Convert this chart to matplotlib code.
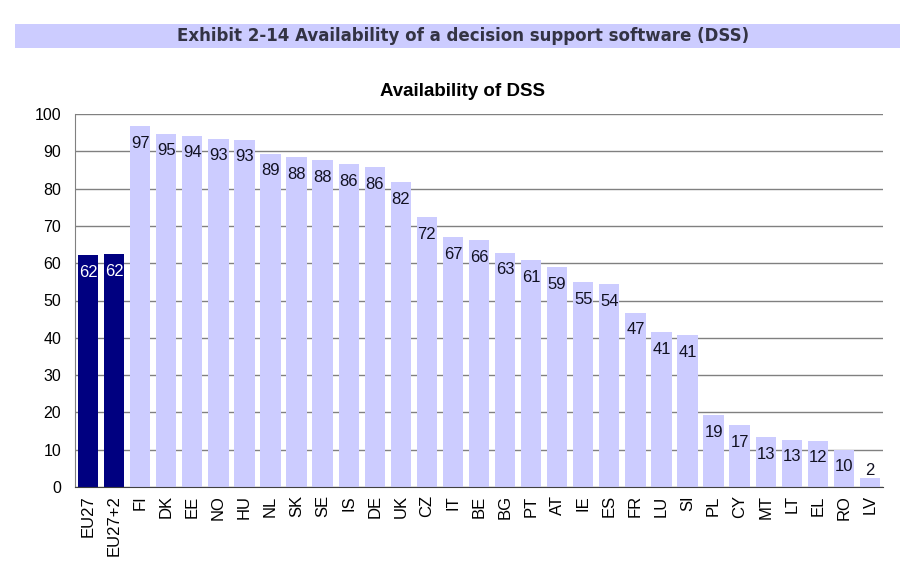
import matplotlib
matplotlib.use("Agg")
import matplotlib.pyplot as plt
from matplotlib.patches import Rectangle

categories = ["EU27", "EU27+2", "FI", "DK", "EE", "NO", "HU", "NL", "SK", "SE", "IS", "DE",
              "UK", "CZ", "IT", "BE", "BG", "PT", "AT", "IE", "ES", "FR", "LU", "SI",
              "PL", "CY", "MT", "LT", "EL", "RO", "LV"]
values = [62.2, 62.4, 96.8, 94.7, 94.2, 93.4, 93.1, 89.4, 88.4, 87.7, 86.5, 85.8,
          81.8, 72.4, 66.9, 66.1, 62.8, 60.8, 59.0, 55.0, 54.4, 46.7, 41.5, 40.7,
          19.3, 16.6, 13.3, 12.7, 12.4, 10.0, 2.3]
labels = ["62", "62", "97", "95", "94", "93", "93", "89", "88", "88", "86", "86",
          "82", "72", "67", "66", "63", "61", "59", "55", "54", "47", "41", "41",
          "19", "17", "13", "13", "12", "10", "2"]
highlight = ["EU27", "EU27+2"]

light = "#CCCCFF"
dark = "#000080"

plt.rcParams['font.family'] = ['Liberation Sans', 'DejaVu Sans']

fig = plt.figure(figsize=(9.15, 5.67), dpi=100)
W, H = 915, 567

# banner
fig.patches.append(Rectangle((15 / W, 1 - 48 / H), (900 - 15) / W, 24 / H,
                             transform=fig.transFigure, facecolor=light, edgecolor="none"))
fig.text(463 / W, 1 - 36 / H, "Exhibit 2-14 Availability of a decision support software (DSS)",
         ha="center", va="center", fontsize=12, fontweight="bold", color="#333344",
         family=["DejaVu Sans"])

ax = fig.add_axes([75 / W, 1 - 487 / H, (883 - 75) / W, (487 - 114) / H])
x = list(range(len(categories)))
colors = [dark if c in highlight else light for c in categories]
ax.bar(x, values, width=0.78, color=colors, zorder=2)

for xi, v, lab, c in zip(x, values, labels, categories):
    y = max(v - 4.6, 4.3)
    ax.text(xi, y, lab, ha="center", va="center", fontsize=12,
            color="white" if c in highlight else "#111122", zorder=3)

ax.set_xlim(-0.5, len(categories) - 0.5)
ax.set_ylim(0, 100)
ax.set_yticks(range(0, 101, 10))
ax.yaxis.grid(True, color="#808080", linewidth=1.0, zorder=0)
ax.set_axisbelow(True)
ax.set_xticks(x)
ax.set_xticklabels(categories, rotation=90, fontsize=12)
ax.tick_params(axis="y", labelsize=11.5, length=0, pad=10)
ax.tick_params(axis="x", length=0, pad=6)
for s in ["top", "right"]:
    ax.spines[s].set_visible(False)
ax.spines["left"].set_color("#808080")
ax.spines["bottom"].set_color("#404040")

fig.text(463 / W, 1 - 92 / H, "Availability of DSS", ha="center", va="center",
         fontsize=13.5, fontweight="bold")

fig.savefig("out.png", dpi=100)
